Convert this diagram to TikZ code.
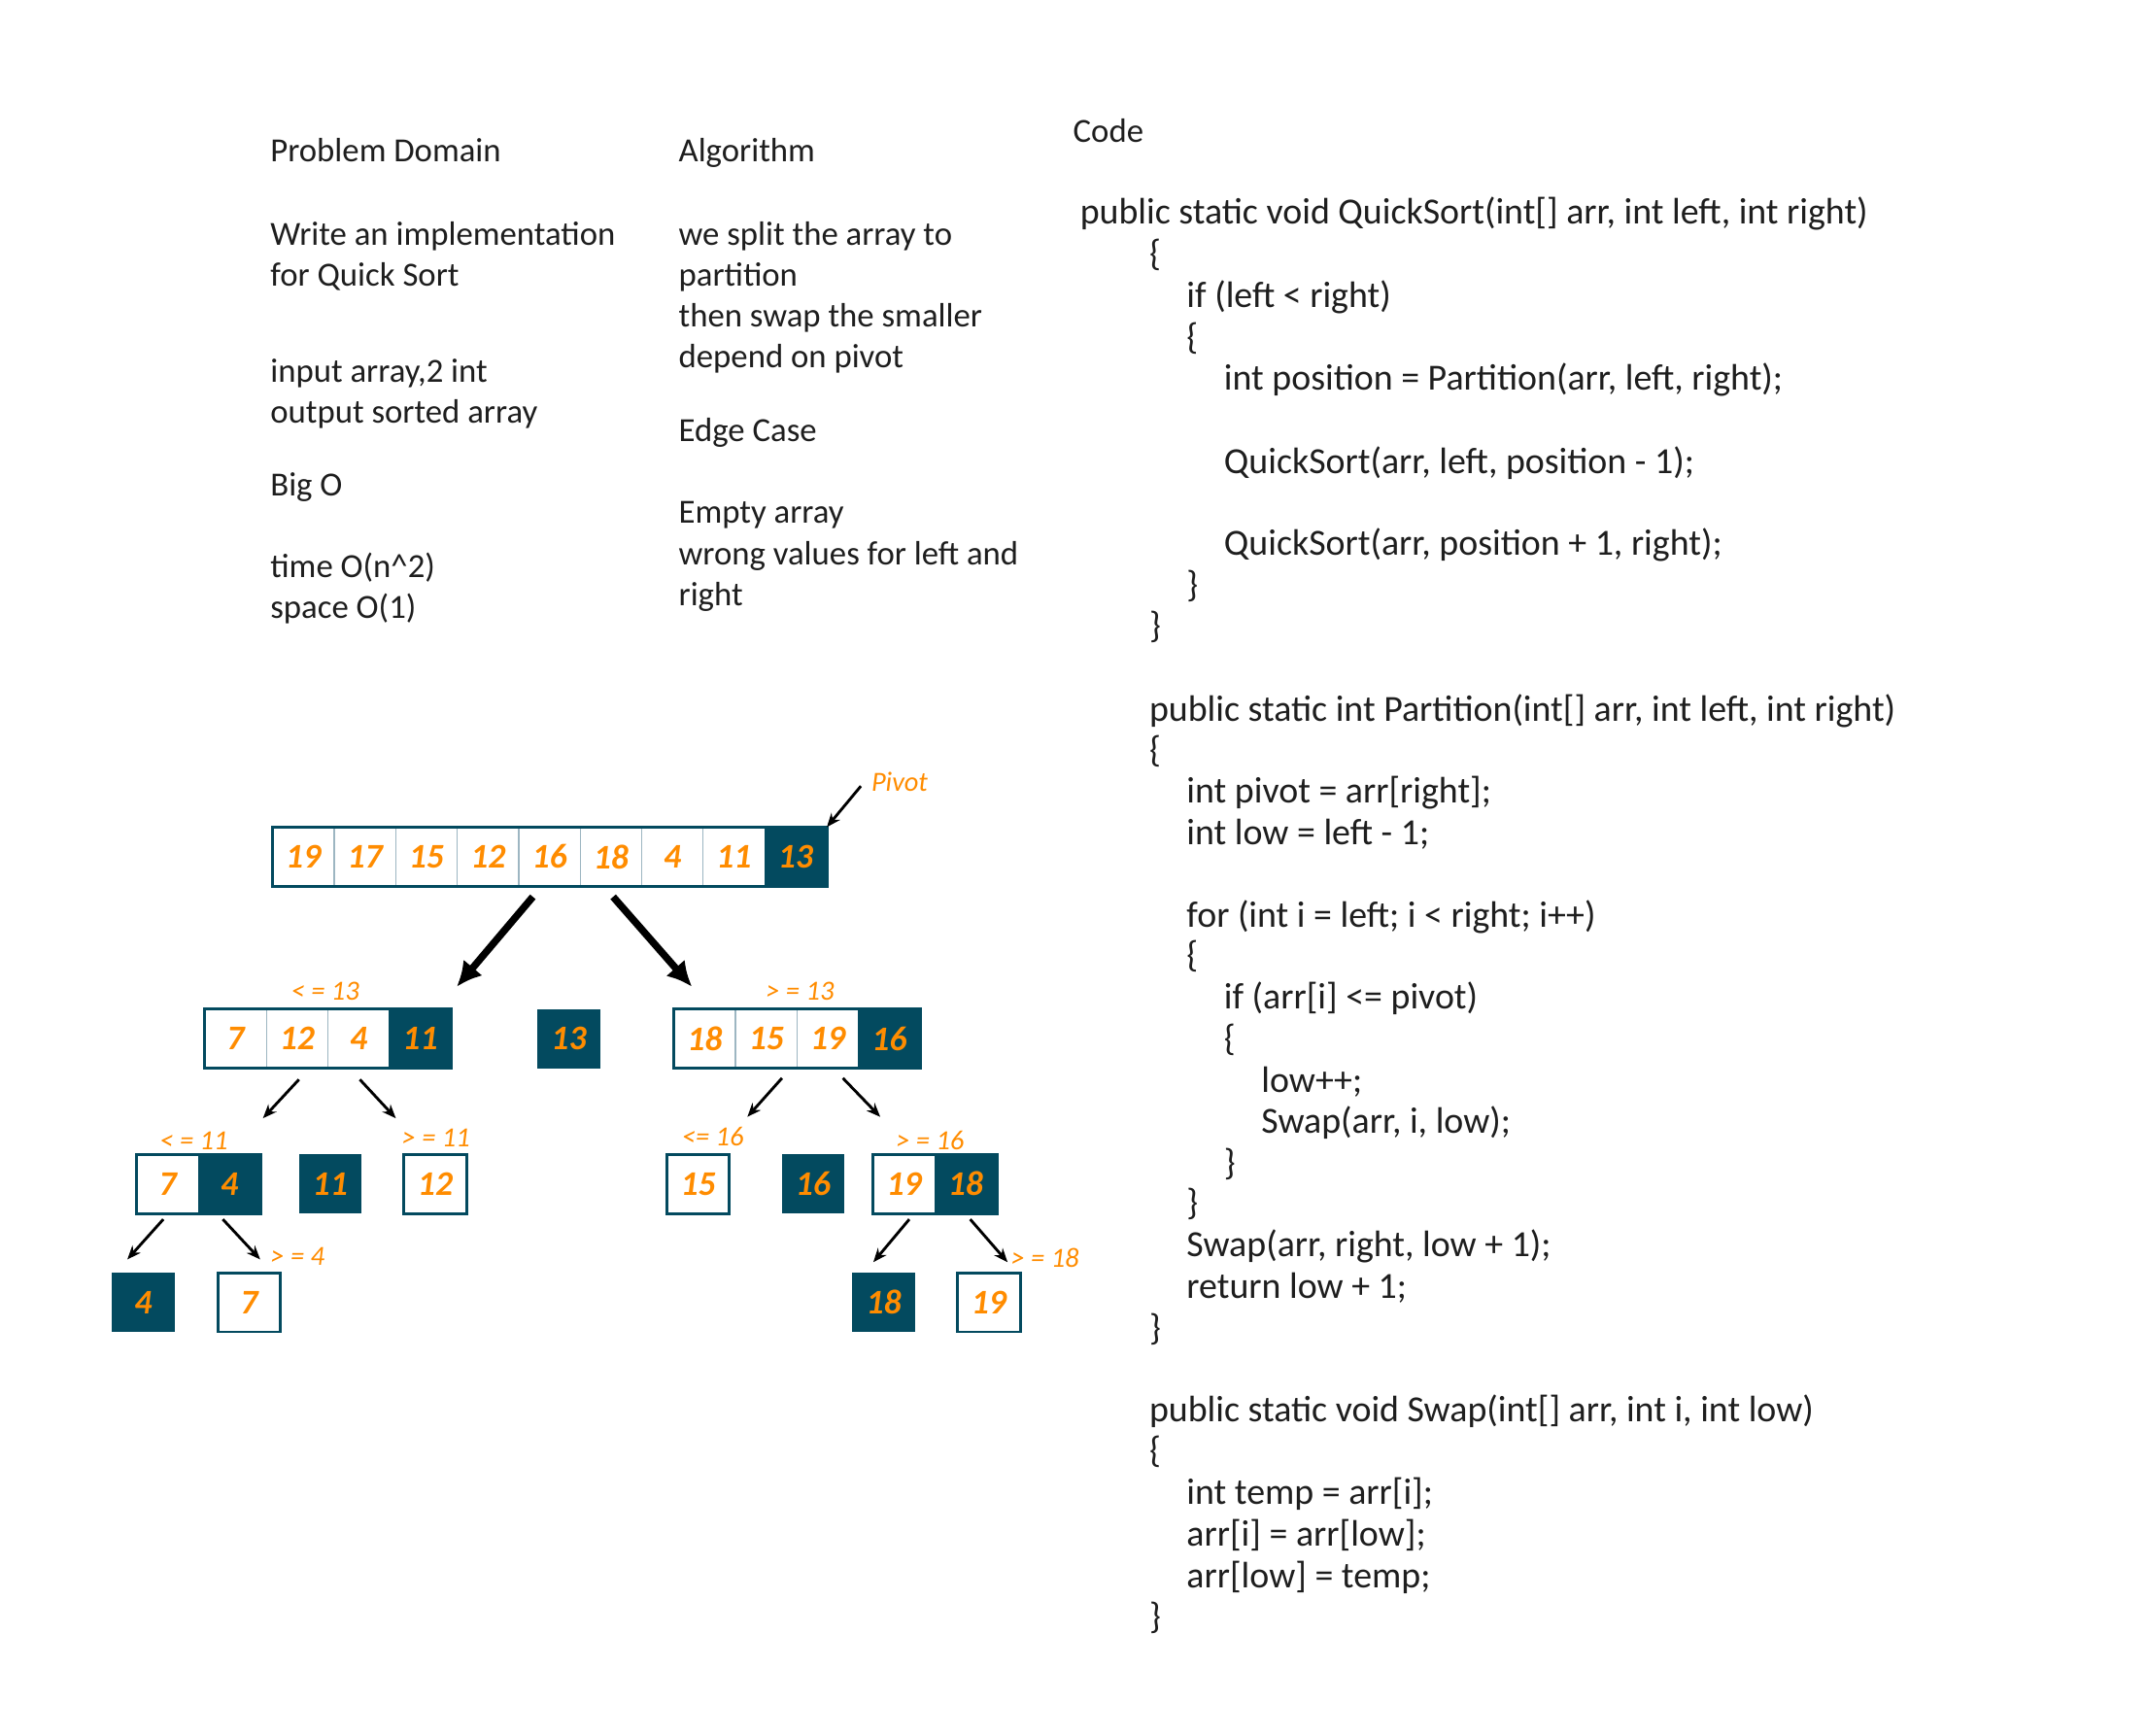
\documentclass[tikz,border=0pt]{standalone}
\usepackage{fontspec}
\setmainfont{Carlito}
\usetikzlibrary{arrows.meta}
\definecolor{teal}{HTML}{034A5F}
\definecolor{orng}{HTML}{FF8C00}
\definecolor{divc}{HTML}{9DB6C2}
\definecolor{ink}{HTML}{1E1E1E}
\tikzset{
  txt/.style={anchor=base west,inner sep=0pt,text=ink,font=\fontsize{12.2}{15}\selectfont},
  code/.style={txt,font=\fontsize{13.3}{15}\selectfont},
  lbl/.style={inner sep=0pt,text=orng,font=\fontsize{10}{11}\itshape\selectfont},
  cellbox/.style={rectangle,minimum width=22.2pt,minimum height=21pt,inner sep=0pt,draw=divc,line width=0.4pt,text=orng,font=\fontsize{12.5}{14}\bfseries\itshape\selectfont},
  darkcell/.style={cellbox,fill=teal,draw=teal},
  frame/.style={draw=teal,line width=1pt},
  bigarrow/.style={draw=black,line width=2.6pt,-{Latex[length=9pt,width=9pt]}},
  thinarrow/.style={draw=black,line width=1pt,-{Stealth[length=5pt,width=4pt]}},
}
\begin{document}
\begin{tikzpicture}[x=0.5pt,y=-0.5pt]
\useasboundingbox[fill=white] (0,0) rectangle (1552,1254);
% ---------- left column
\node[txt] (pd) at (195,117) {Problem Domain};
\node[txt] (pd1) at (195,177) {Write an implementation};
\node[txt] (pd2) at (195,207) {for Quick Sort};
\node[txt] (pd3) at (195,276) {input array,2 int};
\node[txt] (pd4) at (195,306) {output sorted array};
\node[txt] (pd5) at (195,358) {Big O};
\node[txt] (pd6) at (195,417) {time O(n\^{}2)};
\node[txt] (pd7) at (195,447) {space O(1)};
% ---------- middle column
\node[txt] (al) at (490,117) {Algorithm};
\node[txt] (al1) at (490,177) {we split the array to};
\node[txt] (al2) at (490,207) {partition};
\node[txt] (al3) at (490,236) {then swap the smaller};
\node[txt] (al4) at (490,266) {depend on pivot};
\node[txt] (al5) at (490,319) {Edge Case};
\node[txt] (al6) at (490,378) {Empty array};
\node[txt] (al7) at (490,408) {wrong values for left and};
\node[txt] (al8) at (490,438) {right};
% ---------- code
\node[txt] (cd) at (775,103) {Code};
\node[code] (c1) at (780,162) {public static void QuickSort(int[] arr, int left, int right)};
\node[code] (c2) at (830,192) {\{};
\node[code] (c3) at (857,222) {if (left < right)};
\node[code] (c4) at (857,252) {\{};
\node[code] (c5) at (884,282) {int position = Partition(arr, left, right);};
\node[code] (c7) at (884,342) {QuickSort(arr, left, position - 1);};
\node[code] (c9) at (884,401) {QuickSort(arr, position + 1, right);};
\node[code] (c10) at (857,431) {\}};
\node[code] (c11) at (830,461) {\}};
\node[code] (c13) at (830,521) {public static int Partition(int[] arr, int left, int right)};
\node[code] (c14) at (830,551) {\{};
\node[code] (c15) at (857,580) {int pivot = arr[right];};
\node[code] (c16) at (857,610) {int low = left - 1;};
\node[code] (c18) at (857,670) {for (int i = left; i < right; i++)};
\node[code] (c19) at (857,699) {\{};
\node[code] (c20) at (884,729) {if (arr[i] <= pivot)};
\node[code] (c21) at (884,759) {\{};
\node[code] (c22) at (911,789) {low++;};
\node[code] (c23) at (911,819) {Swap(arr, i, low);};
\node[code] (c24) at (884,849) {\}};
\node[code] (c25) at (857,878) {\}};
\node[code] (c26) at (857,908) {Swap(arr, right, low + 1);};
\node[code] (c27) at (857,938) {return low + 1;};
\node[code] (c28) at (830,968) {\}};
\node[code] (c30) at (830,1027) {public static void Swap(int[] arr, int i, int low)};
\node[code] (c31) at (830,1057) {\{};
\node[code] (c32) at (857,1087) {int temp = arr[i];};
\node[code] (c33) at (857,1117) {arr[i] = arr[low];};
\node[code] (c34) at (857,1147) {arr[low] = temp;};
\node[code] (c35) at (830,1177) {\}};
% ---------- main array
\node[cellbox] (a1) at (219.2,619) {19};
\node[cellbox] (a2) at (263.7,619) {17};
\node[cellbox] (a3) at (308.1,619) {15};
\node[cellbox] (a4) at (352.6,619) {12};
\node[cellbox] (a5) at (397.0,619) {16};
\node[cellbox] (a6) at (441.4,619) {18};
\node[cellbox] (a7) at (485.9,619) {4};
\node[cellbox] (a8) at (530.3,619) {11};
\node[darkcell] (a9) at (574.8,619) {13};
\draw[frame] (a1.north west) rectangle (a9.south east);
\node[lbl] (pv) at (650,565) {Pivot};
\coordinate (pvs) at (622,568);
\draw[thinarrow] (pvs) -- (a9.north east);
% big arrows
\coordinate (ba1s) at (385,648);
\coordinate (ba1e) at (330,713);
\coordinate (ba2s) at (443,648);
\coordinate (ba2e) at (500,713);
\draw[bigarrow] (ba1s) -- (ba1e);
\draw[bigarrow] (ba2s) -- (ba2e);
% ---------- level 2
\node[lbl] (l13) at (235,716) {< = 13};
\node[cellbox] (b1) at (170.2,750.5) {7};
\node[cellbox] (b2) at (214.7,750.5) {12};
\node[cellbox] (b3) at (259.1,750.5) {4};
\node[darkcell] (b4) at (303.6,750.5) {11};
\draw[frame] (b1.north west) rectangle (b4.south east);
\node[darkcell] (p13) at (411,750.5) {13};
\node[lbl] (g13) at (578,716) {> = 13};
\node[cellbox] (r1) at (509.2,750.5) {18};
\node[cellbox] (r2) at (553.7,750.5) {15};
\node[cellbox] (r3) at (598.1,750.5) {19};
\node[darkcell] (r4) at (642.6,750.5) {16};
\draw[frame] (r1.north west) rectangle (r4.south east);
% arrows level 2 -> 3
\coordinate (t1s) at (216,780); \coordinate (t1e) at (190,808);
\coordinate (t2s) at (260,780); \coordinate (t2e) at (286,808);
\coordinate (t3s) at (565,779); \coordinate (t3e) at (540,807);
\coordinate (t4s) at (609,779); \coordinate (t4e) at (636,807);
\draw[thinarrow] (t1s) -- (t1e);
\draw[thinarrow] (t2s) -- (t2e);
\draw[thinarrow] (t3s) -- (t3e);
\draw[thinarrow] (t4s) -- (t4e);
% ---------- level 3
\node[lbl] (l11) at (140,824) {< = 11};
\node[cellbox] (d1) at (121.2,855.5) {7};
\node[darkcell] (d2) at (165.7,855.5) {4};
\draw[frame] (d1.north west) rectangle (d2.south east);
\node[darkcell] (p11) at (238.5,855.5) {11};
\node[lbl] (g11) at (315,822) {> = 11};
\node[cellbox] (e12) at (314.5,855.5) {12};
\draw[frame] (e12.north west) rectangle (e12.south east);
\node[lbl] (l16) at (515,821) {<= 16};
\node[cellbox] (e15) at (504.5,855.5) {15};
\draw[frame] (e15.north west) rectangle (e15.south east);
\node[darkcell] (p16) at (587.5,855.5) {16};
\node[lbl] (g16) at (672,824) {> = 16};
\node[cellbox] (f1) at (653.2,855.5) {19};
\node[darkcell] (f2) at (697.7,855.5) {18};
\draw[frame] (f1.north west) rectangle (f2.south east);
% arrows level 3 -> 4
\coordinate (u1s) at (118,881); \coordinate (u1e) at (92,910);
\coordinate (u2s) at (161,881); \coordinate (u2e) at (188,910);
\coordinate (u3s) at (657,881); \coordinate (u3e) at (631,912);
\coordinate (u4s) at (701,881); \coordinate (u4e) at (728,912);
\draw[thinarrow] (u1s) -- (u1e);
\draw[thinarrow] (u2s) -- (u2e);
\draw[thinarrow] (u3s) -- (u3e);
\draw[thinarrow] (u4s) -- (u4e);
\node[lbl] (g4) at (215,908) {> = 4};
\node[lbl] (g18) at (755,909) {> = 18};
% ---------- level 4
\node[darkcell] (h4) at (103.5,941) {4};
\node[cellbox] (h7) at (180,941) {7};
\draw[frame] (h7.north west) rectangle (h7.south east);
\node[darkcell] (h18) at (638.5,941) {18};
\node[cellbox] (h19) at (714.5,941) {19};
\draw[frame] (h19.north west) rectangle (h19.south east);
\end{tikzpicture}
\end{document}
